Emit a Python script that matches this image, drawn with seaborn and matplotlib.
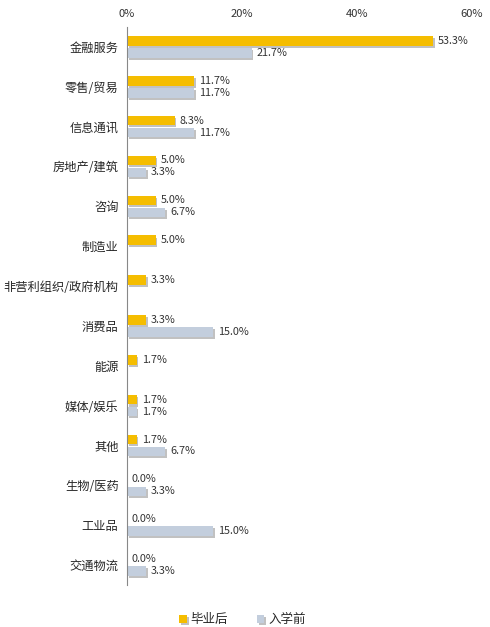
import numpy as np
import pandas as pd
import matplotlib
matplotlib.use("Agg")
import matplotlib.pyplot as plt
import matplotlib.patheffects as pe
from matplotlib.ticker import FuncFormatter, FixedLocator
import seaborn as sns

# -------- DATA --------
industries = ["金融服务", "零售/贸易", "信息通讯", "房地产/建筑", "咨询", "制造业",
              "非营利组织/政府机构", "消费品", "能源", "媒体/娱乐", "其他",
              "生物/医药", "工业品", "交通物流"]
after_grad = [53.3, 11.7, 8.3, 5.0, 5.0, 5.0, 3.3, 3.3, 1.7, 1.7, 1.7, 0.0, 0.0, 0.0]
before_school = [21.7, 11.7, 11.7, 3.3, 6.7, None, None, 15.0, None, 1.7, 6.7, 3.3, 15.0, 3.3]
series_names = ["毕业后", "入学前"]
colors = ["#F5BD00", "#C3CEDD"]

df = pd.DataFrame({
    "行业": industries * 2,
    "比例": after_grad + before_school,
    "组": [series_names[0]] * len(industries) + [series_names[1]] * len(industries),
})

# -------- STYLE --------
sns.set_style("white")
plt.rcParams["font.family"] = ["Noto Sans CJK SC", "DejaVu Sans"]

fig = plt.figure(figsize=(4.9, 6.27), dpi=100)
ax = fig.add_axes([0.259, 0.067, 0.704, 0.89])

sns.barplot(data=df, x="比例", y="行业", hue="组", orient="h",
            palette=colors, saturation=1, width=0.6, gap=0.2, ax=ax, legend=True,
            order=industries, hue_order=series_names, linewidth=0, edgecolor="none")

for bar in ax.patches:
    bar.set_path_effects([pe.SimplePatchShadow(offset=(1.2, -1.5), shadow_rgbFace="#777777",
                                               alpha=0.45),
                          pe.Normal()])

# value labels
for cont in ax.containers:
    labels = ["" if np.isnan(v) else f"{v:.1f}%" for v in cont.datavalues]
    ax.bar_label(cont, labels=labels, padding=3.5, fontsize=7.8, color="#333333")

ax.set_xlim(0, 60)
ax.set_ylim(len(industries) - 0.5, -0.5)
ax.xaxis.tick_top()
ax.set_xticks([0, 20, 40, 60])
ax.xaxis.set_major_formatter(FuncFormatter(lambda v, p: f"{v:.0f}%"))
ax.tick_params(axis="x", length=0, labelsize=8, colors="#333333", pad=6)
ax.tick_params(axis="y", which="major", length=0, labelsize=8.8, pad=6)
ax.yaxis.set_minor_locator(FixedLocator(np.arange(-0.5, len(industries), 1.0)))
ax.tick_params(axis="y", which="minor", length=5, color="#888888", width=0.8)
ax.set_xlabel("")
ax.set_ylabel("")

for side in ["top", "right", "bottom"]:
    ax.spines[side].set_visible(False)
ax.spines["left"].set_color("#888888")
ax.spines["left"].set_linewidth(0.8)

ax.legend(loc="upper center", bbox_to_anchor=(0.335, -0.03), ncol=2, frameon=False,
          fontsize=9, handlelength=0.6, handleheight=0.6, columnspacing=2.3,
          handletextpad=0.3)

fig.savefig("out.png", dpi=100)
